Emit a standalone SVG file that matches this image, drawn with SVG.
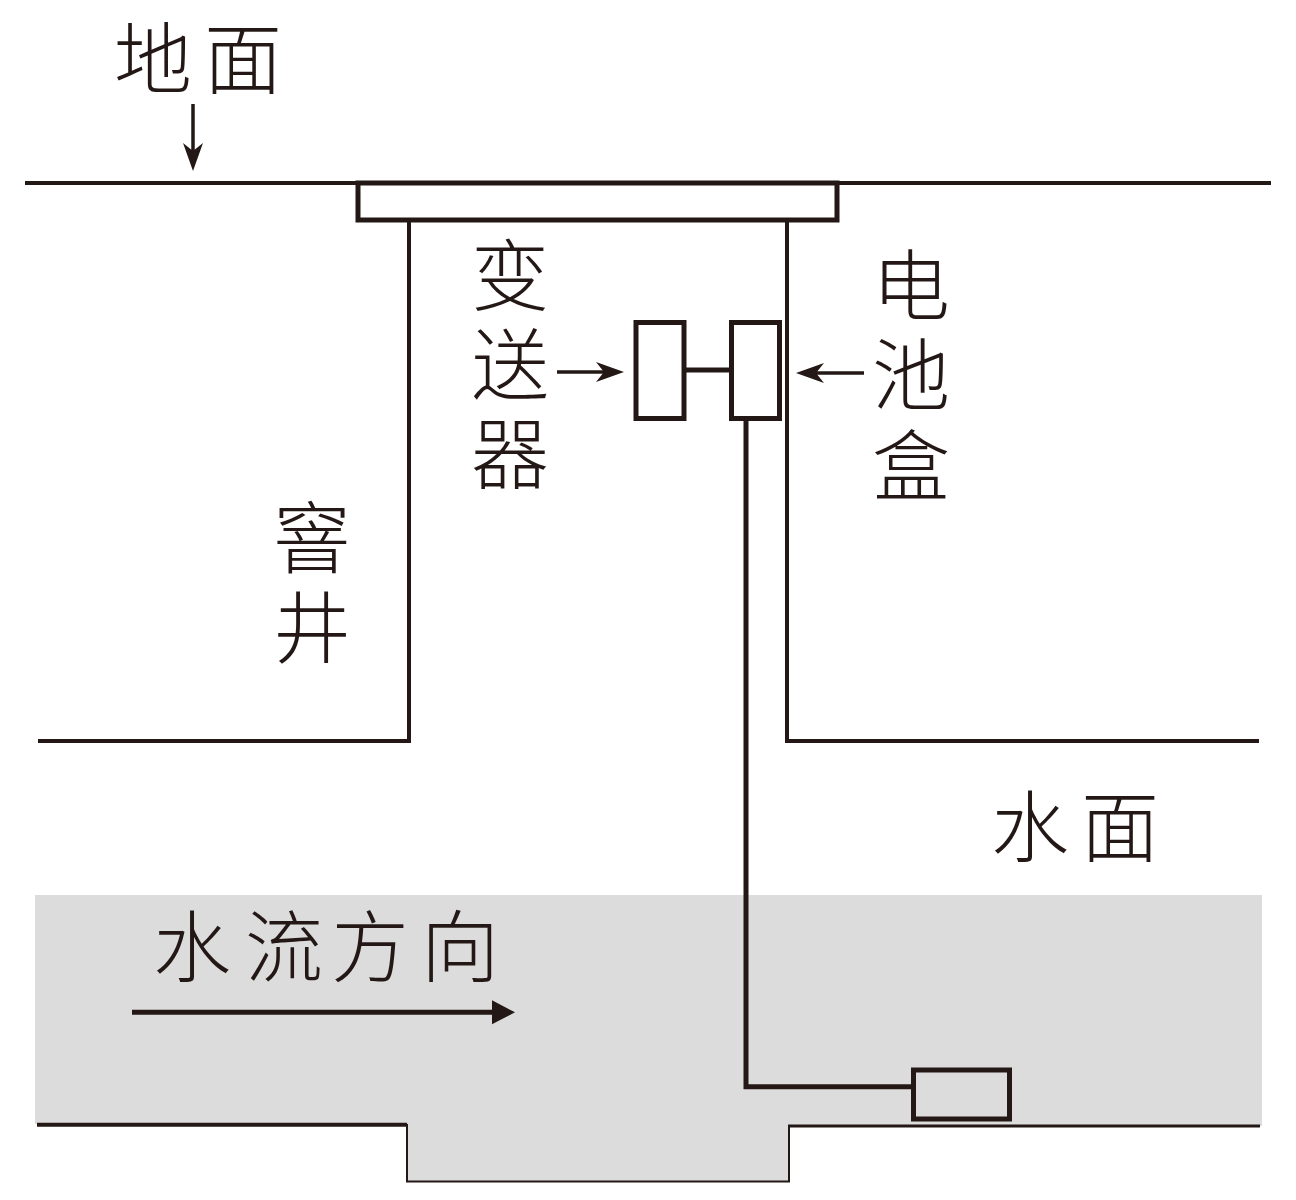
<svg xmlns="http://www.w3.org/2000/svg" width="1296" height="1200" viewBox="0 0 1296 1200">
<style>
.l{fill:none;stroke:#231815;stroke-width:4}
.s{fill:none;stroke:#231815;stroke-width:2}
.w{fill:none;stroke:#231815;stroke-width:5}
.ar{fill:none;stroke:#231815;stroke-width:3.5}
.t{font-family:"Liberation Sans","Noto Sans CJK SC","Noto Sans CJK JP",sans-serif;font-weight:300;fill:#231815;text-anchor:middle;font-size:78px}
.b{fill:#fff;stroke:#231815;stroke-width:5}
.n{fill:none;stroke:#231815;stroke-width:5}
</style>
<defs>
<marker id="a" markerUnits="userSpaceOnUse" markerWidth="30" markerHeight="24" refX="14" refY="12" orient="auto"><path d="M0 2L28 12L0 22L8 12Z" fill="#231815"/></marker>
<marker id="m" markerUnits="userSpaceOnUse" markerWidth="24" markerHeight="26" refX="3" refY="13" orient="auto"><path d="M0 1L23 13L0 25Z" fill="#231815"/></marker>
</defs>
<rect width="1296" height="1200" fill="#fff"/>
<g id="water"><path d="M35 895H1262V1126H789V1181H407V1124H35Z" fill="#dcdcdc"/></g>
<g id="connectors">
<path class="l" d="M25 183H357M838 183H1271"/>
<path class="l" d="M409 221V741H38"/>
<path class="l" d="M787 221V741H1259"/>
<path class="l" d="M37 1124.7H407"/>
<path class="s" d="M407 1124V1181.5H789V1126"/>
<path class="s" style="stroke-width:3" d="M788 1126H1260"/>
<path class="w" d="M746 419V1086.8H914"/>
<path class="w" d="M685 370H731"/>
<path class="ar" d="M193 104V157" marker-end="url(#a)"/>
<path class="ar" d="M557 372H610" marker-end="url(#a)"/>
<path class="ar" d="M864 373H810" marker-end="url(#a)"/>
<path class="w" d="M132 1012.3H495" marker-end="url(#m)"/>
</g>
<g id="cover"><rect class="b" x="358" y="183" width="479" height="37"/></g>
<g id="transmitter"><rect class="b" x="636" y="322.5" width="48" height="96"/></g>
<g id="battery"><rect class="b" x="731.5" y="322.5" width="48" height="96"/></g>
<g id="sensor"><rect class="n" x="913.5" y="1070" width="96" height="49"/></g>
<g id="label-ground"><text class="t" x="153" y="88">地</text><text class="t" x="243" y="88">面</text></g>
<g id="label-transmitter"><text class="t" x="510" y="305">变</text><text class="t" x="510" y="394">送</text><text class="t" x="510" y="483">器</text></g>
<g id="label-battery"><text class="t" x="911" y="315">电</text><text class="t" x="911" y="404">池</text><text class="t" x="911" y="495">盒</text></g>
<g id="label-well"><text class="t" x="312" y="567">窨</text><text class="t" x="312" y="657">井</text></g>
<g id="label-surface"><text class="t" x="1030" y="856">水</text><text class="t" x="1120" y="856">面</text></g>
<g id="label-flow"><text class="t" x="192" y="976">水</text><text class="t" x="284" y="976">流</text><text class="t" x="370" y="976">方</text><text class="t" x="460" y="976">向</text></g>
</svg>
